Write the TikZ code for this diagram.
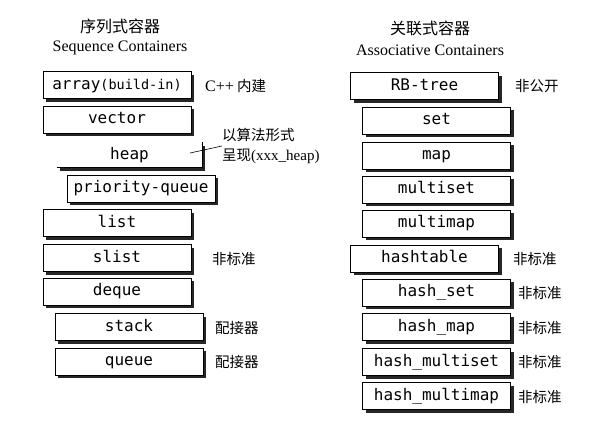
\documentclass[tikz,border=0pt]{standalone}
\usepackage{fontspec}
\setmainfont{Liberation Serif}
\setmonofont{DejaVu Sans Mono}
\newfontfamily\cjk{Noto Sans CJK SC}
\usetikzlibrary{shadows}
\tikzset{
  cbox/.style={draw=black, line width=0.8pt, fill=white, minimum width=148pt, minimum height=27pt,
    inner sep=0pt, text height=11.5pt, text depth=3.5pt, font=\ttfamily\fontsize{16}{18}\selectfont,
    drop shadow={shadow xshift=3pt, shadow yshift=-3pt, fill=black!85, opacity=1}},
  nobox/.style={draw=none, fill=white, minimum width=145pt, minimum height=25pt,
    inner sep=0pt, text height=11.5pt, text depth=3.5pt, font=\ttfamily\fontsize{16}{18}\selectfont,
    drop shadow={shadow xshift=3pt, shadow yshift=-3pt, fill=black!85, opacity=1}},
  note/.style={anchor=west, inner sep=0pt, font=\cjk\fontsize{14.5}{16}\selectfont},
  ttl/.style={inner sep=0pt, align=center, font=\fontsize{16}{20}\selectfont},
  leader/.style={draw=black, line width=0.6pt}
}
\begin{document}
\begin{tikzpicture}[x=1pt,y=-1pt]
\useasboundingbox (0,0) rectangle (602,428);
% titles
\node[ttl] (t1a) at (120,26) {\cjk 序列式容器};
\node[ttl] (t1b) at (120,48) {Sequence Containers};
\node[ttl] (t2a) at (430,28) {\cjk 关联式容器};
\node[ttl] (t2b) at (430,50) {Associative Containers};
% sequence containers
\node[cbox] (array) at (117,85) {array{\fontsize{13.5}{16}\selectfont(build-in)}};
\node[cbox] (vector) at (117,119.5) {vector};
\node[nobox] (heap) at (129.5,155) {heap};
\draw[line width=0.8pt] (heap.north east) -- (heap.south east) -- (heap.south west);
\node[cbox] (pq) at (141,188.5) {priority-queue};
\node[cbox] (list) at (117,223) {list};
\node[cbox] (slist) at (117,258) {slist};
\node[cbox] (deque) at (117,291.5) {deque};
\node[cbox] (stack) at (129,327) {stack};
\node[cbox] (queue) at (129,361.5) {queue};
% notes left
\node[note] (n1) at (205,86) {{\rmfamily\fontsize{16}{16}\selectfont C++} 内建};
\node[note, align=left, font=\cjk\fontsize{14.5}{20}\selectfont] (heaplbl) at (222,146) {以算法形式\\呈现{\rmfamily\fontsize{15}{20}\selectfont(xxx\_heap)}};
\coordinate (hp) at (190,153);
\draw[leader] (hp) -- (heaplbl.west);
\node[note] (n3) at (212,259) {非标准};
\node[note] (n4) at (215,328) {配接器};
\node[note] (n5) at (215,362) {配接器};
% associative containers
\node[cbox] (rb) at (424.5,86) {RB-tree};
\node[cbox] (set) at (436.5,120.5) {set};
\node[cbox] (map) at (436.5,155.5) {map};
\node[cbox] (mset) at (436.5,189.5) {multiset};
\node[cbox] (mmap) at (436.5,223.5) {multimap};
\node[cbox] (ht) at (424.5,258.5) {hashtable};
\node[cbox] (hs) at (436.5,292.5) {hash\_set};
\node[cbox] (hm) at (436.5,327) {hash\_map};
\node[cbox] (hms) at (436.5,362) {hash\_multiset};
\node[cbox] (hmm) at (436.5,396) {hash\_multimap};
% notes right
\node[note] (r1) at (515,86) {非公开};
\node[note] (r2) at (513,259) {非标准};
\node[note] (r3) at (518,293) {非标准};
\node[note] (r4) at (518,328) {非标准};
\node[note] (r5) at (518,362) {非标准};
\node[note] (r6) at (518,397) {非标准};
\end{tikzpicture}
\end{document}
